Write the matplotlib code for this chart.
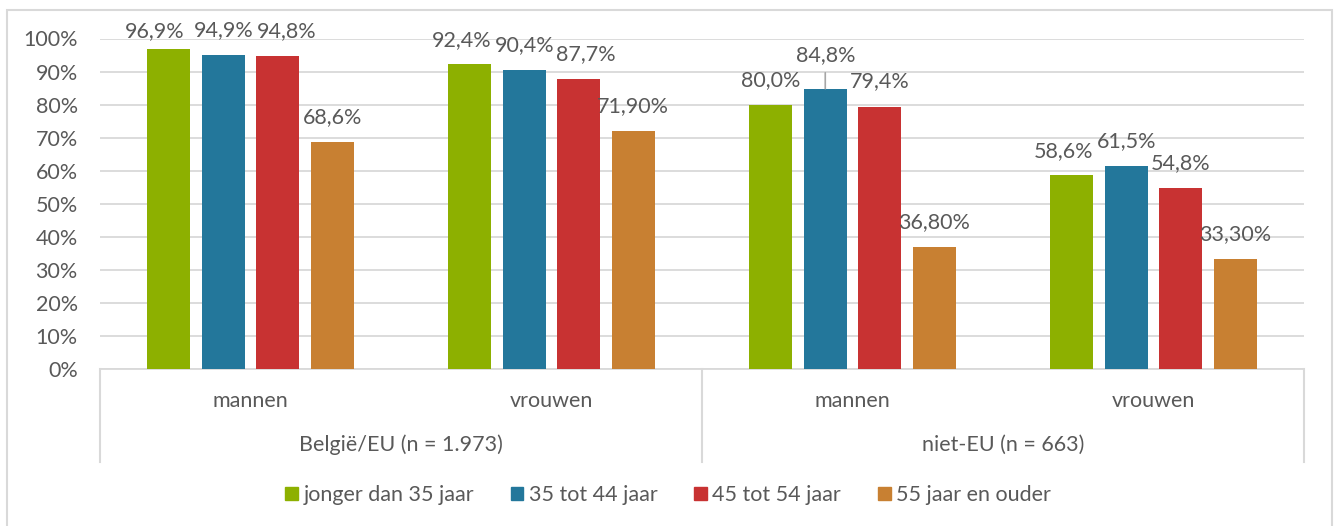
import matplotlib
matplotlib.use("Agg")
import matplotlib.pyplot as plt
from matplotlib.patches import Rectangle
from matplotlib.lines import Line2D
import numpy as np

plt.rcParams['font.family'] = ['Lato', 'DejaVu Sans']

categories = ["mannen", "vrouwen", "mannen", "vrouwen"]
groups = ["België/EU (n = 1.973)", "niet-EU (n = 663)"]
series = ["jonger dan 35 jaar", "35 tot 44 jaar", "45 tot 54 jaar", "55 jaar en ouder"]
values = [
    [96.9, 92.4, 80.0, 58.6],
    [94.9, 90.4, 84.8, 61.5],
    [94.8, 87.7, 79.4, 54.8],
    [68.6, 71.9, 36.8, 33.3],
]
labels = [
    ["96,9%", "92,4%", "80,0%", "58,6%"],
    ["94,9%", "90,4%", "84,8%", "61,5%"],
    ["94,8%", "87,7%", "79,4%", "54,8%"],
    ["68,6%", "71,90%", "36,80%", "33,30%"],
]
colors = ["#8DB000", "#23779B", "#C83232", "#C88032"]
yticks = [0, 10, 20, 30, 40, 50, 60, 70, 80, 90, 100]

# label placement tweaks (pixels): (series, category) -> (dx, gap to baseline)
label_shift = {
    (0, 0): (-14, 12), (2, 0): (9, 19),
    (0, 1): (-8, 18), (2, 1): (7, 19),
    (0, 3): (-8, 18),
    (1, 2): (0, 27.5),
}
leader = {(1, 2): 16}

W, H = 1336, 526
fig = plt.figure(figsize=(W / 100, H / 100), dpi=100)
fig.patch.set_facecolor("white")

FS = 15.5
PX = 0.72  # points per pixel at 100 dpi
L, R, T, B = 100, 1304, 38.5, 369
ax = fig.add_axes([L / W, 1 - B / H, (R - L) / W, (B - T) / H])

txt = "#595959"
grid = "#D9D9D9"
x = np.arange(len(categories))
bw = 0.143
step = 0.181
for i, (vals, labs, c) in enumerate(zip(values, labels, colors)):
    xs = x + (i - 1.5) * step
    ax.bar(xs, vals, width=bw, color=c, label=series[i], zorder=3)
    for j, (xi, v, lab) in enumerate(zip(xs, vals, labs)):
        dx, gap = label_shift.get((i, j), (0, 19))
        ax.annotate(lab, (xi, v), xytext=(dx * PX, gap * PX), textcoords="offset points",
                    ha="center", va="baseline", fontsize=FS, color=txt,
                    annotation_clip=False)
        if (i, j) in leader:
            ax.annotate("", (xi, v), xytext=(0, leader[(i, j)] * PX),
                        textcoords="offset points",
                        arrowprops=dict(arrowstyle="-", color="#A6A6A6", lw=1.2,
                                        shrinkA=0, shrinkB=0))

ax.set_xlim(-0.5, 3.5)
ax.set_ylim(0, 100)
ax.set_yticks(yticks)
ax.set_yticklabels([f"{t}%" for t in yticks], fontsize=FS, color=txt)
ax.tick_params(axis="y", length=0, pad=16)
ax.set_xticks([])
ax.grid(axis="y", color=grid, lw=1.3, zorder=0)
for s in ["top", "right", "left"]:
    ax.spines[s].set_visible(False)
ax.spines["bottom"].set_color(grid)
ax.spines["bottom"].set_linewidth(1.3)

def fx(px):
    return px / W

def fy(py):
    return 1 - py / H

# multi-level category axis separators
for px in [L, (L + R) / 2, R]:
    fig.add_artist(Line2D([fx(px), fx(px)], [fy(B), fy(462)], color=grid, lw=1.5))

for i, c in enumerate(categories):
    cx = L + (i + 0.5) * (R - L) / 4
    fig.text(fx(cx), fy(401), c, ha="center", va="center", fontsize=FS, color=txt)
for j, g in enumerate(groups):
    cx = L + (j + 0.5) * (R - L) / 2
    fig.text(fx(cx), fy(445), g, ha="center", va="center", fontsize=FS, color=txt)

# outer frame
fig.add_artist(Rectangle((fx(7), fy(540)), fx(1332) - fx(7), fy(10) - fy(540),
                         fill=False, edgecolor=grid, lw=1.5))

handles = [Rectangle((0, 0), 1, 1, color=c) for c in colors]
fig.legend(handles, series, loc="center", bbox_to_anchor=(0.5, fy(495)), ncol=4,
           frameon=False, fontsize=FS, handlelength=0.6, handleheight=0.6,
           handletextpad=0.25, columnspacing=1.7, labelcolor=txt)

fig.savefig("out.png", dpi=100, facecolor="white")
